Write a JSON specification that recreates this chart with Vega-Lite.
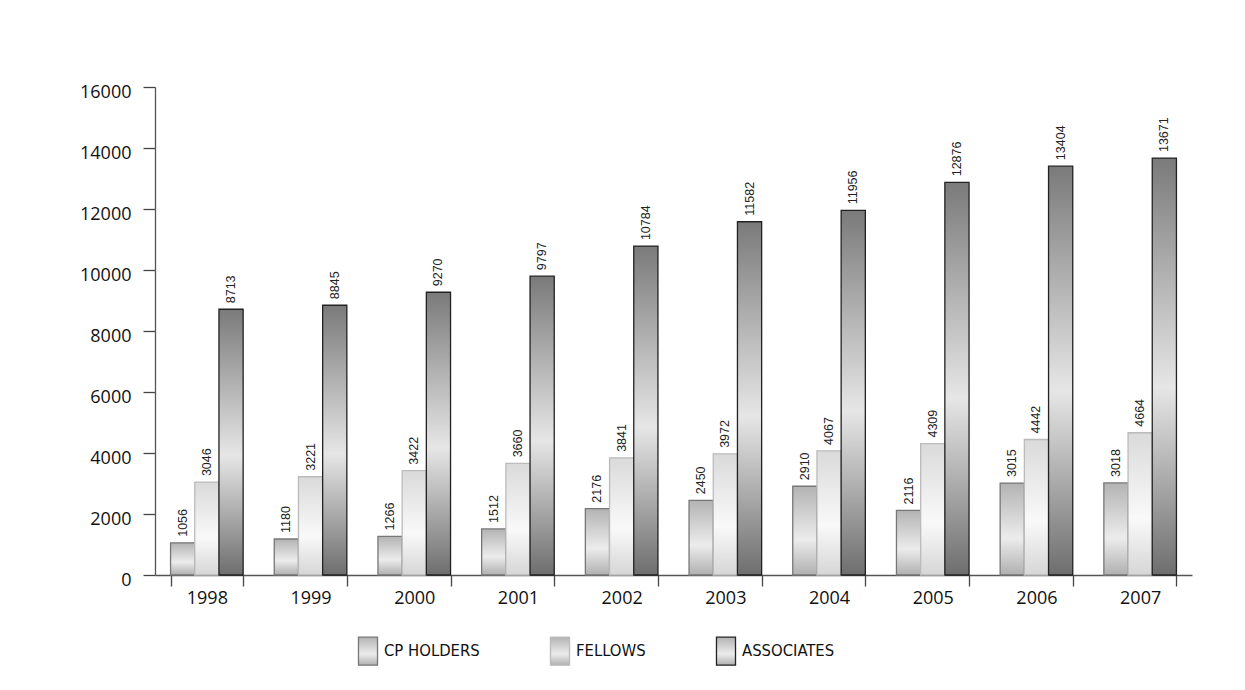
{
  "$schema": "https://vega.github.io/schema/vega-lite/v6.json",
  "width": 1037,
  "height": 488,
  "autosize": {"type": "none"},
  "padding": {"left": 155, "top": 87, "right": 53, "bottom": 115},
  "background": "white",
  "config": {"view": {"stroke": null}},
  "data": {
    "values": [
      {"year": "1998", "series": "CP HOLDERS", "value": 1056},
      {"year": "1998", "series": "FELLOWS", "value": 3046},
      {"year": "1998", "series": "ASSOCIATES", "value": 8713},
      {"year": "1999", "series": "CP HOLDERS", "value": 1180},
      {"year": "1999", "series": "FELLOWS", "value": 3221},
      {"year": "1999", "series": "ASSOCIATES", "value": 8845},
      {"year": "2000", "series": "CP HOLDERS", "value": 1266},
      {"year": "2000", "series": "FELLOWS", "value": 3422},
      {"year": "2000", "series": "ASSOCIATES", "value": 9270},
      {"year": "2001", "series": "CP HOLDERS", "value": 1512},
      {"year": "2001", "series": "FELLOWS", "value": 3660},
      {"year": "2001", "series": "ASSOCIATES", "value": 9797},
      {"year": "2002", "series": "CP HOLDERS", "value": 2176},
      {"year": "2002", "series": "FELLOWS", "value": 3841},
      {"year": "2002", "series": "ASSOCIATES", "value": 10784},
      {"year": "2003", "series": "CP HOLDERS", "value": 2450},
      {"year": "2003", "series": "FELLOWS", "value": 3972},
      {"year": "2003", "series": "ASSOCIATES", "value": 11582},
      {"year": "2004", "series": "CP HOLDERS", "value": 2910},
      {"year": "2004", "series": "FELLOWS", "value": 4067},
      {"year": "2004", "series": "ASSOCIATES", "value": 11956},
      {"year": "2005", "series": "CP HOLDERS", "value": 2116},
      {"year": "2005", "series": "FELLOWS", "value": 4309},
      {"year": "2005", "series": "ASSOCIATES", "value": 12876},
      {"year": "2006", "series": "CP HOLDERS", "value": 3015},
      {"year": "2006", "series": "FELLOWS", "value": 4442},
      {"year": "2006", "series": "ASSOCIATES", "value": 13404},
      {"year": "2007", "series": "CP HOLDERS", "value": 3018},
      {"year": "2007", "series": "FELLOWS", "value": 4664},
      {"year": "2007", "series": "ASSOCIATES", "value": 13671}
    ]
  },
  "encoding": {
    "x": {
      "field": "year",
      "type": "nominal",
      "title": null,
      "scale": {"paddingInner": 0.3, "paddingOuter": 0.15},
      "axis": {
        "labelAngle": 0,
        "tickBand": "extent",
        "tickSize": 11,
        "tickColor": "#444",
        "tickWidth": 1.3,
        "domainColor": "#555",
        "domainWidth": 1.3,
        "labelFont": "Open Sans",
        "labelFontSize": 18,
        "labelColor": "#111",
        "labelPadding": 3
      }
    },
    "xOffset": {
      "field": "series",
      "type": "nominal",
      "scale": {"domain": ["CP HOLDERS", "FELLOWS", "ASSOCIATES"], "paddingInner": 0, "paddingOuter": 0}
    },
    "y": {
      "field": "value",
      "type": "quantitative",
      "title": null,
      "scale": {"domain": [0, 16000], "nice": false},
      "axis": {
        "values": [0, 2000, 4000, 6000, 8000, 10000, 12000, 14000, 16000],
        "format": "d",
        "grid": false,
        "tickSize": 12,
        "tickColor": "#444",
        "tickWidth": 1.3,
        "domainColor": "#555",
        "domainWidth": 1.3,
        "labelFont": "Open Sans",
        "labelFontSize": 18,
        "labelColor": "#111",
        "labelPadding": 12,
        "labelOffset": 5
      }
    },
    "stroke": {
      "field": "series",
      "type": "nominal",
      "scale": {
        "domain": ["CP HOLDERS", "FELLOWS", "ASSOCIATES"],
        "range": ["#777777", "#bbbbbb", "#222222"]
      },
      "legend": {
        "title": null,
        "orient": "none",
        "legendX": 198,
        "legendY": 549,
        "direction": "horizontal",
        "columnPadding": 65,
        "labelFont": "DejaVu Sans Condensed, Liberation Sans",
        "labelFontSize": 16.5,
        "labelColor": "#111",
        "labelOffset": 1,
        "symbolType": "M-0.68,-1H0.68V1H-0.68Z",
        "symbolSize": 784,
        "symbolStrokeWidth": 1.3,
        "encode": {
          "symbols": {
            "update": {
              "size": {"value": 784},
              "shape": {"value": "M-0.68,-1H0.68V1H-0.68Z"},
              "fill": [
                {"test": "datum.value === 'CP HOLDERS'", "value": {"gradient": "linear", "x1": 0, "y1": 0, "x2": 0, "y2": 1, "stops": [{"offset": 0, "color": "#b3b3b3"}, {"offset": 0.6, "color": "#ececec"}, {"offset": 1, "color": "#b0b0b0"}]}},
                {"test": "datum.value === 'FELLOWS'", "value": {"gradient": "linear", "x1": 0, "y1": 0, "x2": 0, "y2": 1, "stops": [{"offset": 0, "color": "#dadada"}, {"offset": 0.6, "color": "#f9f9f9"}, {"offset": 1, "color": "#d6d6d6"}]}},
                {"value": {"gradient": "linear", "x1": 0, "y1": 0, "x2": 0, "y2": 1, "stops": [{"offset": 0, "color": "#7a7a7a"}, {"offset": 0.55, "color": "#e6e6e6"}, {"offset": 1, "color": "#6e6e6e"}]}}
              ],
              "fillOpacity": {"value": 1}
            }
          }
        }
      }
    }
  },
  "layer": [
    {
      "transform": [{"filter": "datum.series === 'CP HOLDERS'"}],
      "mark": {"type": "bar", "strokeWidth": 1.3, "color": {"gradient": "linear", "x1": 0, "y1": 0, "x2": 0, "y2": 1, "stops": [{"offset": 0, "color": "#b3b3b3"}, {"offset": 0.6, "color": "#ececec"}, {"offset": 1, "color": "#b0b0b0"}]}}
    },
    {
      "transform": [{"filter": "datum.series === 'FELLOWS'"}],
      "mark": {"type": "bar", "strokeWidth": 1.3, "color": {"gradient": "linear", "x1": 0, "y1": 0, "x2": 0, "y2": 1, "stops": [{"offset": 0, "color": "#dadada"}, {"offset": 0.6, "color": "#f9f9f9"}, {"offset": 1, "color": "#d6d6d6"}]}}
    },
    {
      "transform": [{"filter": "datum.series === 'ASSOCIATES'"}],
      "mark": {"type": "bar", "strokeWidth": 1.3, "color": {"gradient": "linear", "x1": 0, "y1": 0, "x2": 0, "y2": 1, "stops": [{"offset": 0, "color": "#7a7a7a"}, {"offset": 0.55, "color": "#e6e6e6"}, {"offset": 1, "color": "#6e6e6e"}]}}
    },
    {
      "mark": {"type": "text", "angle": -90, "align": "left", "baseline": "middle", "dx": 6, "font": "Liberation Sans", "fontSize": 12.5, "color": "#222"},
      "encoding": {"text": {"field": "value", "type": "quantitative"}, "stroke": {"value": null}}
    }
  ]
}
